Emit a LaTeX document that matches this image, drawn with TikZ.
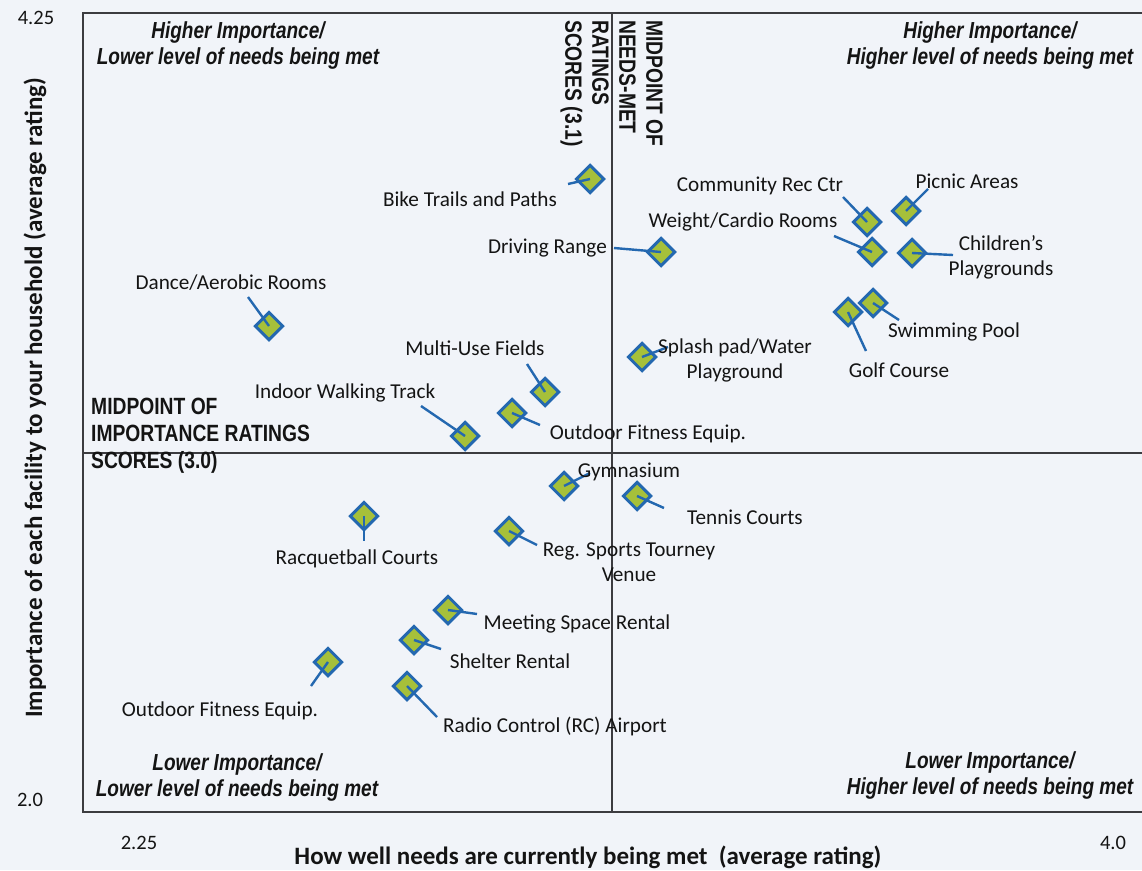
\documentclass[tikz,border=0pt]{standalone}
\usepackage{fontspec}
\setmainfont{Carlito}
\newfontfamily\narrowfont[FakeStretch=0.82]{Liberation Sans}
\usetikzlibrary{shapes.geometric}
\definecolor{bgc}{RGB}{241,244,249}
\definecolor{framec}{RGB}{60,60,64}
\definecolor{mblue}{RGB}{36,104,176}
\definecolor{mgreen}{RGB}{166,192,58}
\definecolor{txt}{RGB}{20,20,20}
\tikzset{
  mk/.style={diamond,aspect=1,draw=mblue,fill=mgreen,line width=3pt,minimum size=28.5pt,inner sep=0pt},
  lead/.style={draw=mblue,line width=2.4pt},
  lab/.style={inner sep=0pt,text=txt,font=\fontsize{21.2}{25}\selectfont,align=center},
  quad/.style={inner sep=0pt,text=txt,font=\narrowfont\bfseries\itshape\fontsize{23.2}{26}\selectfont,align=center},
  mid/.style={inner sep=0pt,text=txt,font=\narrowfont\bfseries\fontsize{23.5}{27}\selectfont,align=left},
  tick/.style={inner sep=0pt,text=txt,font=\fontsize{20.5}{22}\selectfont},
  axl/.style={inner sep=0pt,text=txt,font=\bfseries\fontsize{25}{28}\selectfont},
  frm/.style={draw=framec,line width=2pt}
}
\begin{document}
\begin{tikzpicture}[x=1pt,y=-1pt]
\useasboundingbox (0,0) rectangle (1142,870);
\fill[bgc] (0,0) rectangle (1142,870);
% frame
\draw[frm] (1150,13) -- (83,13) -- (83,812) -- (1150,812);
% midpoint lines
\draw[frm] (612,13) -- (612,812);
\draw[frm] (83,453) -- (1150,453);

% quadrant labels
\node[quad] (ql) at (238,46) {Higher Importance/\\Lower level of needs being met};
\node[quad] (qr) at (990,46) {Higher Importance/\\Higher level of needs being met};
\node[quad] (bl) at (237,777) {Lower Importance/\\Lower level of needs being met};
\node[quad] (br) at (990,775) {Lower Importance/\\Higher level of needs being met};

% midpoint labels
\node[mid,anchor=north west] (mi) at (91,398) {MIDPOINT OF\\IMPORTANCE RATINGS\\SCORES (3.0)};
\node[mid,rotate=-90,anchor=north west] (mn) at (663,20) {MIDPOINT OF\\NEEDS-MET\\RATINGS\\SCORES (3.1)};

% axis ticks
\node[tick] (t1) at (36,18) {4.25};
\node[tick] (t2) at (30,800) {2.0};
\node[tick] (t3) at (139,843) {2.25};
\node[tick] (t4) at (1113,843) {4.0};
\node[axl,rotate=90] (ya) at (35,398) {Importance of each facility to your household (average rating)};
\node[axl] (xa) at (588,857) {How well needs are currently being met\ \ (average rating)};

% data points
\node[mk] (m1) at (590,179) {};
\node[mk] (m2) at (661,252) {};
\node[mk] (m3) at (867,222) {};
\node[mk] (m4) at (906,211) {};
\node[mk] (m5) at (872,252) {};
\node[mk] (m6) at (912,253) {};
\node[mk] (m7) at (873,303) {};
\node[mk] (m8) at (848,312) {};
\node[mk] (m9) at (269,326) {};
\node[mk] (m10) at (545,392) {};
\node[mk] (m11) at (465,436) {};
\node[mk] (m12) at (512,413) {};
\node[mk] (m13) at (642,357) {};
\node[mk] (m14) at (564,486) {};
\node[mk] (m15) at (637,496) {};
\node[mk] (m16) at (364,516) {};
\node[mk] (m17) at (509,531) {};
\node[mk] (m18) at (448,610) {};
\node[mk] (m19) at (414,640) {};
\node[mk] (m20) at (328,662) {};
\node[mk] (m21) at (407,686) {};

% leader end points
\coordinate (e1) at (568,184);
\coordinate (e2) at (614,248);
\coordinate (e3) at (843,197);
\coordinate (e4) at (928,189);
\coordinate (e5) at (834,236);
\coordinate (e6) at (953,255);
\coordinate (e7) at (899,320);
\coordinate (e8) at (866,351);
\coordinate (e9) at (248,297);
\coordinate (e10) at (527,364);
\coordinate (e11) at (421,406);
\coordinate (e12) at (540,425);
\coordinate (e13) at (668,347);
\coordinate (e14) at (590,473);
\coordinate (e15) at (664,508);
\coordinate (e16) at (364,541);
\coordinate (e17) at (537,545);
\coordinate (e18) at (477,614);
\coordinate (e19) at (441,649);
\coordinate (e20) at (311,686);
\coordinate (e21) at (437,717);

\foreach \i in {1,...,21} {\draw[lead] (m\i.center) -- (e\i);}

% labels
\node[lab] (l1) at (470,199) {Bike Trails and Paths};
\node[lab,anchor=east] (l2) at (607,248) {Driving Range};
\node[lab] (l3) at (760,186) {Community Rec Ctr};
\node[lab] (l4) at (967,181) {Picnic Areas};
\node[lab] (l5) at (743,222) {Weight/Cardio Rooms};
\node[lab] (l6) at (1001,257) {Children's\\Playgrounds};
\node[lab] (l7) at (954,332) {Swimming Pool};
\node[lab] (l8) at (899,370) {Golf Course};
\node[lab] (l9) at (231,283) {Dance/Aerobic Rooms};
\node[lab] (l10) at (475,348) {Multi-Use Fields};
\node[lab] (l11) at (345,393) {Indoor Walking Track};
\node[lab] (l12) at (648,434) {Outdoor Fitness Equip.};
\node[lab] (l13) at (735,360) {Splash pad/Water\\Playground};
\node[lab] (l14) at (629,472) {Gymnasium};
\node[lab] (l15) at (745,517) {Tennis Courts};
\node[lab] (l16) at (357,559) {Racquetball Courts};
\node[lab] (l17) at (629,562) {Reg. Sports Tourney\\Venue};
\node[lab] (l18) at (577,624) {Meeting Space Rental};
\node[lab] (l19) at (510,661) {Shelter Rental};
\node[lab] (l20) at (220,711) {Outdoor Fitness Equip.};
\node[lab] (l21) at (555,726) {Radio Control (RC) Airport};
\end{tikzpicture}
\end{document}
